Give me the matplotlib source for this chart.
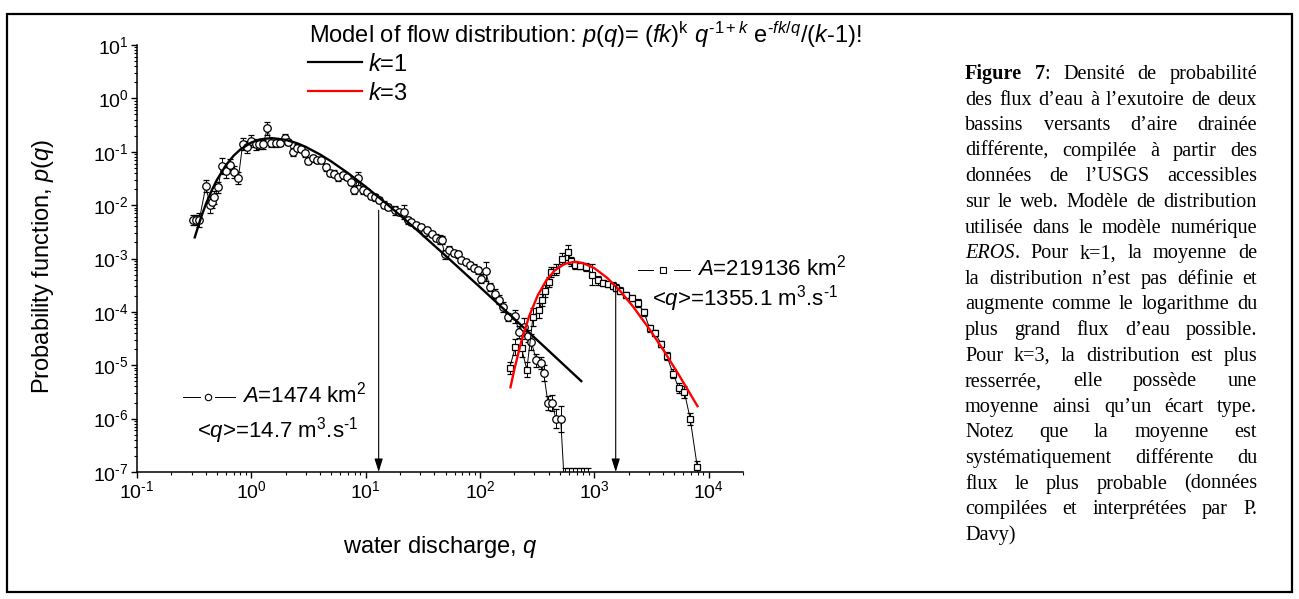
"""Flow distribution figure: two basins + k=1 / k=3 model curves, with French caption."""
import re

import matplotlib
matplotlib.use("Agg")
import matplotlib.pyplot as plt
import numpy as np
from matplotlib.lines import Line2D
from matplotlib.patches import Rectangle
from matplotlib.ticker import FuncFormatter, LogLocator, NullFormatter

W, H = 1299, 599
HY = "\u2010"  # short hyphen, as in the original exponents

# basin A=1474 km2 (circles): discharge, probability, relative error
c_q = [0.31, 0.33, 0.35, 0.40, 0.435, 0.455, 0.474, 0.514, 0.55, 0.60, 0.65, 0.71, 0.77,
       0.84, 0.92, 0.99, 1.09, 1.17, 1.27, 1.38, 1.50, 1.64, 1.78, 1.97, 2.10, 2.30, 2.49,
       2.71, 2.94, 3.14, 3.43, 3.72, 4.11, 4.49, 4.86, 5.27, 5.75, 6.28, 6.81, 7.38, 7.94,
       8.6, 9.4, 10.2, 11.1, 12.0, 13.1, 14.4, 15.7, 18.0, 19.6, 21.7, 23.5, 25.1, 27.8,
       30.8, 32.9, 34.1, 37.7, 41.1, 44.6, 46.1, 49.2, 53.7, 59.0, 64.4, 68.9, 75.1, 81.5,
       88.3, 96.2, 103, 112, 122, 135, 147, 159, 176, 202, 220, 242, 262, 282, 312, 345,
       361, 394, 431, 460, 508, 550, 600, 650, 700, 760, 820, 880]
c_p = [5.2e-3, 5.2e-3, 5.2e-3, 0.0226, 0.010, 0.0115, 0.0139, 0.0214, 0.0545, 0.0432, 0.056,
       0.042, 0.032, 0.139, 0.124, 0.160, 0.137, 0.137, 0.137, 0.273, 0.149, 0.149, 0.149,
       0.178, 0.153, 0.10, 0.12, 0.112, 0.093, 0.068, 0.075, 0.070, 0.070, 0.051, 0.040,
       0.039, 0.033, 0.036, 0.034, 0.027, 0.019, 0.0316, 0.019, 0.0178, 0.0148, 0.0139,
       0.0124, 0.0102, 0.0093, 0.0080, 0.0075, 0.0075, 0.0052, 0.00484, 0.0042, 0.0039,
       0.0031, 0.00338, 0.00285, 0.00247, 0.00226, 0.0022, 0.0012, 0.00143, 0.00127, 0.0012,
       0.00093, 0.00086, 0.000745, 0.000676, 0.0006, 0.00042, 0.00058, 0.00029, 0.00022,
       0.00017, 0.000123, 8.0e-5, 8.2e-5, 4.2e-5, 5.2e-5, 3.5e-5, 2.7e-5, 1.23e-5, 1.1e-5,
       7.1e-6, 1.95e-6, 1.95e-6, 1.0e-6, 1.0e-6, 5e-8, 5e-8, 5e-8, 5e-8, 5e-8, 5e-8, 5e-8]
c_err = [0.25, 0.25, 0.35, 0.3, 0.4, 0.3, 0.3, 0.25, 0.4, 0.35, 0.3, 0.3, 0.3, 0.3, 0.3, 0.3,
         0.25, 0.2, 0.2, 0.35, 0.2, 0.2, 0.15, 0.2, 0.15, 0.2, 0.15, 0.15, 0.15, 0.15, 0.15,
         0.15, 0.15, 0.15, 0.15, 0.15, 0.15, 0.15, 0.15, 0.15, 0.2, 0.3, 0.2, 0.15, 0.15, 0.15,
         0.15, 0.15, 0.15, 0.2, 0.15, 0.35, 0.15, 0.15, 0.15, 0.15, 0.15, 0.15, 0.15, 0.15,
         0.2, 0.2, 0.2, 0.2, 0.15, 0.15, 0.15, 0.15, 0.15, 0.15, 0.15, 0.2, 0.5, 0.2, 0.2,
         0.2, 0.25, 0.2, 0.35, 0.3, 0.5, 0.3, 0.4, 0.3, 0.3, 0.4, 0.35, 0.4, 0.5, 0.75,
         1.4, 1.4, 1.4, 1.4, 1.4, 1.4, 1.4]

# basin A=219136 km2 (squares)
s_q = [182, 204, 231, 257, 291, 329, 350, 368, 398, 421, 467, 523, 589, 630, 675, 745, 853,
       962, 1078, 1192, 1320, 1456, 1540, 1690, 1906, 2150, 2410, 2720, 3050, 3400, 3860,
       4310, 4880, 5480, 6150, 6900, 7960]
s_p = [9e-6, 2.2e-5, 2.1e-5, 8.3e-6, 8e-5, 1.07e-4, 1.66e-4, 2.5e-4, 3.6e-4, 5.6e-4, 6.2e-4,
       1.0e-3, 1.3e-3, 8.8e-4, 7.6e-4, 7.2e-4, 7.0e-4, 5.0e-4, 3.9e-4, 3.5e-4, 3.3e-4,
       3.1e-4, 2.85e-4, 2.5e-4, 2.05e-4, 1.8e-4, 1.45e-4, 9.8e-5, 4.9e-5, 4.0e-5, 2.5e-5,
       1.5e-5, 7.0e-6, 3.8e-6, 3.1e-6, 1.0e-6, 1.26e-7]
s_err = [0.3, 0.4, 0.5, 0.4, 0.5, 0.4, 0.3, 0.3, 0.25, 0.25, 0.25, 0.25, 0.4, 0.2, 0.2, 0.15,
         0.2, 0.6, 0.2, 0.15, 0.15, 0.15, 0.15, 0.15, 0.15, 0.15, 0.2, 0.15, 0.15, 0.15, 0.15,
         0.2, 0.2, 0.25, 0.3, 0.3, 0.3]

# model curves
k1_q = [0.32, 0.36, 0.4, 0.45, 0.5, 0.6, 0.7, 0.8, 1.0, 1.2, 1.5, 2, 2.5, 3, 4, 5, 7, 10,
        15, 20, 30, 50, 100, 200, 400, 770]
k1_p = [2.49e-3, 5.55e-3, 0.0104, 0.0188, 0.0297, 0.0562, 0.0842, 0.110, 0.149, 0.171,
        0.180, 0.167, 0.145, 0.123, 0.0886, 0.0659, 0.0399, 0.0222, 0.01092, 0.00646,
        0.00302, 0.00113, 2.91e-4, 7.39e-5, 1.86e-5, 5.04e-6]
k3_q = [185, 200, 230, 270, 320, 380, 450, 550, 675, 800, 1000, 1300, 1700, 2200, 3000,
        4000, 5500, 8000]
k3_p = [3.87e-6, 8.4e-6, 2.80e-5, 8.41e-5, 2.03e-4, 3.87e-4, 5.95e-4, 7.93e-4, 8.68e-4,
        8.21e-4, 6.61e-4, 4.32e-4, 2.41e-4, 1.23e-4, 4.94e-5, 1.96e-5, 6.58e-6, 1.71e-6]

# mean-discharge arrows (q, p at top of arrow)
arrow_q = [13.0, 1540]
arrow_top = [8e-3, 3.0e-4]

caption = [
    "**Figure** **7**: Densité de probabilité",
    "des flux d’eau à l’exutoire de deux",
    "bassins versants d’aire drainée",
    "différente, compilée à partir des",
    "données de l’USGS accessibles",
    "sur le web. Modèle de distribution",
    "utilisée dans le modèle numérique",
    "_EROS_. Pour k=1, la moyenne de",
    "la distribution n’est pas définie et",
    "augmente comme le logarithme du",
    "plus grand flux d’eau possible.",
    "Pour k=3, la distribution est plus",
    "resserrée, elle possède une",
    "moyenne ainsi qu’un écart type.",
    "Notez que la moyenne est",
    "systématiquement différente du",
    "flux le plus probable (données",
    "compilées et interprétées par P.",
    "Davy)",
]

plt.rcParams.update({
    "font.family": ["Liberation Sans", "DejaVu Sans"],
    "mathtext.fontset": "custom",
    "mathtext.rm": "Liberation Sans",
    "mathtext.it": "Liberation Sans:italic",
    "mathtext.bf": "Liberation Sans:bold",
})


def fx(x):
    return x / W


def fy(y):
    return 1 - y / H


def errs(p, e):
    p, e = np.asarray(p), np.asarray(e)
    return [p - p / (1 + e), p * e]


def pow_label(v, pos):
    e = int(round(np.log10(v)))
    return r"$10^{%s}$" % (HY + str(-e) if e < 0 else str(e))


fig = plt.figure(figsize=(W / 100, H / 100), dpi=100)
ax = fig.add_axes([fx(137), fy(472), (743 - 137) / W, (472 - 45) / H])
ax.set_xscale("log")
ax.set_yscale("log")

ax.errorbar(c_q, c_p, yerr=errs(c_p, c_err), fmt="-o", color="k", lw=0.7, ms=5.4,
            mfc="white", mew=0.9, elinewidth=0.7, capsize=2.3, capthick=0.7, zorder=2)
ax.errorbar(s_q, s_p, yerr=errs(s_p, s_err), fmt="-s", color="k", lw=0.7, ms=4.8,
            mfc="white", mew=0.9, elinewidth=0.7, capsize=2.3, capthick=0.7, zorder=2)
ax.plot(k1_q, k1_p, color="k", lw=1.7, zorder=3)
ax.plot(k3_q, k3_p, color="#ff0000", lw=1.7, zorder=3)

for q, top in zip(arrow_q, arrow_top):
    ax.annotate("", xy=(q, 1e-7), xytext=(q, top),
                arrowprops=dict(arrowstyle="-|>,head_length=0.8,head_width=0.25",
                                color="k", lw=0.8, shrinkA=0, shrinkB=0))

ax.set_xlim(0.1, 2e4)
ax.set_ylim(1e-7, 10)
for a in (ax.xaxis, ax.yaxis):
    a.set_major_locator(LogLocator(base=10, numticks=20))
    a.set_major_formatter(FuncFormatter(pow_label))
    a.set_minor_locator(LogLocator(base=10, subs=range(2, 10), numticks=20))
    a.set_minor_formatter(NullFormatter())
ax.tick_params(which="major", direction="out", length=4, width=1, labelsize=14, pad=2)
ax.tick_params(which="minor", direction="out", length=2.2, width=0.8)
ax.spines[["top", "right"]].set_visible(False)
for s in ("left", "bottom"):
    ax.spines[s].set_linewidth(1.1)

# axis titles
fig.text(fx(43), fy(266), r"Probability function, $p$($q$)", rotation=90,
         ha="center", va="center", fontsize=17)
fig.text(fx(440), fy(547), r"water discharge, $q$", ha="center", va="center", fontsize=17)

# model legend
fig.text(fx(309), fy(43),
         r"Model of flow distribution: $p$($q$)= ($fk$)$^{\mathrm{k}}$ $q^{%s1+k}$ "
         r"e$^{%sfk/q}$/($k$-1)!" % (HY, HY), fontsize=17, va="baseline")
for y, col, lab in [(62, "k", r"$k$=1"), (91, "#ff0000", r"$k$=3")]:
    fig.add_artist(Line2D([fx(308), fx(362)], [fy(y), fy(y)], color=col, lw=1.6))
    fig.text(fx(368), fy(y + 9), lab, fontsize=17, va="baseline")

# basin labels
for (l0, l1, mx, r0, r1, y), mk in [((183, 200, 208, 215, 235, 397), "o"),
                                   ((638, 653, 663, 674, 690, 270), "s")]:
    fig.add_artist(Line2D([fx(l0), fx(l1)], [fy(y)] * 2, color="k", lw=0.7))
    fig.add_artist(Line2D([fx(r0), fx(r1)], [fy(y)] * 2, color="k", lw=0.7))
    fig.add_artist(Line2D([fx(mx)], [fy(y)], marker=mk, ms=4.6, mfc="white", mec="k",
                          mew=0.8, ls="none"))
fig.text(fx(242), fy(403), r"$A$=1474 km$^{2}$", fontsize=16, va="baseline")
fig.text(fx(197), fy(437), r"<$q$>=14.7 m$^{3}$.s$^{%s1}$" % HY, fontsize=16, va="baseline")
fig.text(fx(697), fy(276), r"$A$=219136 km$^{2}$", fontsize=16, va="baseline")
fig.text(fx(652), fy(306), r"<$q$>=1355.1 m$^{3}$.s$^{%s1}$" % HY, fontsize=16,
         va="baseline")

# justified caption
renderer = fig.canvas.get_renderer()
cx0, cx1, base0, step, csize = 965, 1257, 79, 25.6, 14.6
for i, line in enumerate(caption):
    words = []
    for word in line.split(" "):
        segs = []
        for part in re.split(r"(\*\*[^*]+\*\*|_[^_]+_)", word):
            if not part:
                continue
            kw = {}
            if part.startswith("**"):
                part, kw = part[2:-2], {"weight": "bold"}
            elif part.startswith("_") and part.endswith("_") and len(part) > 1:
                part, kw = part[1:-1], {"style": "italic"}
            t = fig.text(0, fy(base0 + i * step), part, fontsize=csize,
                         family="Liberation Serif", va="baseline", **kw)
            segs.append((t, t.get_window_extent(renderer).width))
        words.append(segs)
    widths = [sum(w for _, w in segs) for segs in words]
    last = i == len(caption) - 1
    gap = 4.0 if last or len(words) < 2 else (cx1 - cx0 - sum(widths)) / (len(words) - 1)
    x = cx0
    for segs in words:
        for t, w in segs:
            t.set_x(fx(x))
            x += w
        x += gap

fig.add_artist(Rectangle((fx(7), fy(592)), (1292 - 7) / W, (592 - 14) / H,
                         transform=fig.transFigure, fill=False, lw=1.6, ec="k"))

fig.savefig("out.png", dpi=100)
print("wrote out.png")
